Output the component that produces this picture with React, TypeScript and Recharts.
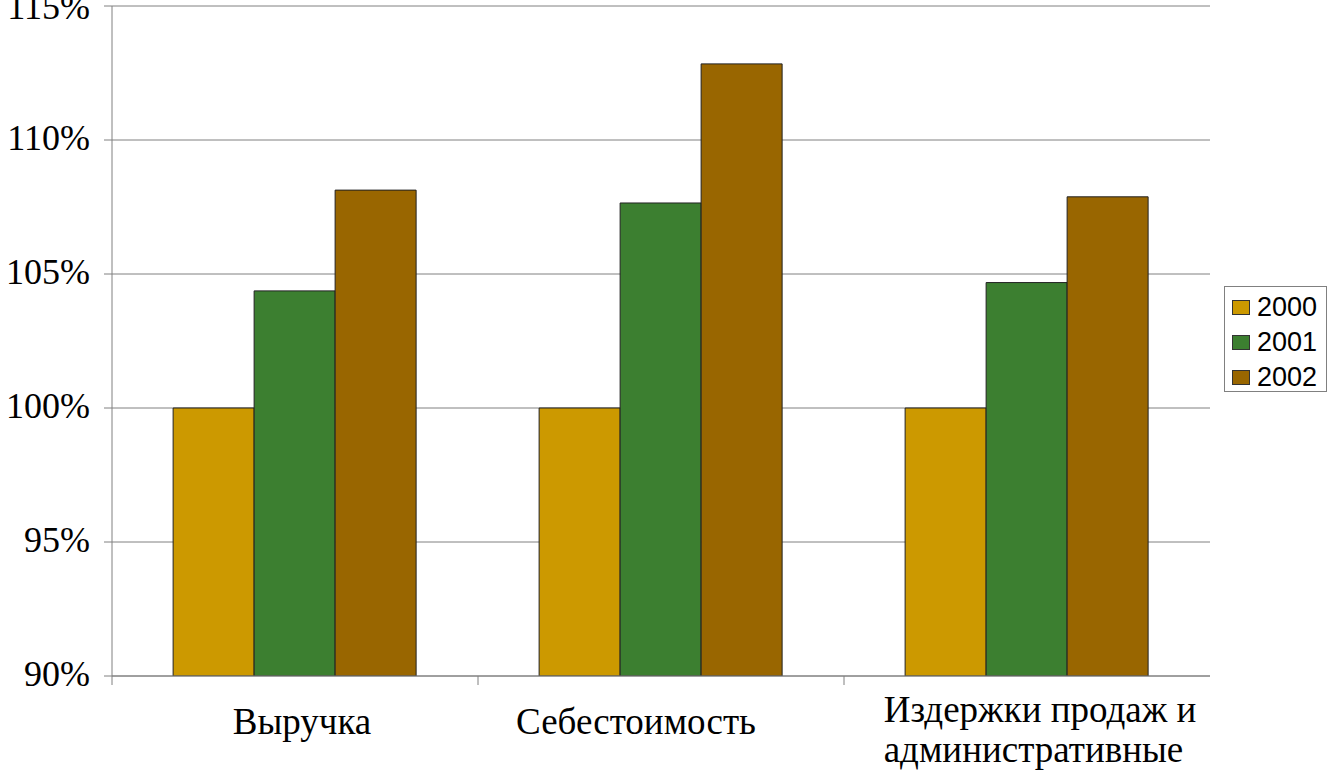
import React from "react";
import { BarChart, Bar, XAxis, YAxis, CartesianGrid } from "recharts";

const categories = ["Выручка", "Себестоимость", "Издержки продаж и административные"];
const values2000 = [100, 100, 100];
const values2001 = [104.37, 107.65, 104.68];
const values2002 = [108.13, 112.84, 107.88];
const seriesNames = ["2000", "2001", "2002"];
const yTicks = [90, 95, 100, 105, 110, 115];

const colors = ["#CC9900", "#3C7F30", "#996600"];
const labelShift = [7, -25, 13];
const SERIF = "'Liberation Serif', 'Times New Roman', serif";
const SANS = "'Liberation Sans', Arial, sans-serif";
const LABEL_SIZE = 37;

const data = categories.map((c, i) => ({
  name: c,
  s2000: values2000[i],
  s2001: values2001[i],
  s2002: values2002[i],
}));

function wrap(text: string, max: number): string[] {
  const words = text.split(" ");
  const lines: string[] = [];
  let cur = "";
  for (const w of words) {
    const t = cur ? cur + " " + w : w;
    if (t.length > max && cur) {
      lines.push(cur);
      cur = w;
    } else cur = t;
  }
  if (cur) lines.push(cur);
  return lines;
}

let measureCtx: CanvasRenderingContext2D | null = null;
function measure(text: string): number {
  if (typeof document === "undefined") return text.length * LABEL_SIZE * 0.5;
  if (!measureCtx) {
    const c = document.createElement("canvas");
    measureCtx = c.getContext("2d");
  }
  if (!measureCtx) return text.length * LABEL_SIZE * 0.5;
  measureCtx.font = `${LABEL_SIZE}px 'Liberation Serif', 'Times New Roman', serif`;
  return measureCtx.measureText(text).width;
}

const XTick = (props: any) => {
  const { x, y, payload, index, width, visibleTicksCount } = props;
  const half =
    payload && payload.offset ? payload.offset : width / (visibleTicksCount || 3) / 2;
  const lines = wrap(String(payload.value), 18);
  const first = lines.length > 1 ? 46 : 58;
  const cx = x + (labelShift[index] || 0);
  const blockW = Math.max(...lines.map(measure));
  const startX = cx - blockW / 2;
  return (
    <g>
      <line x1={x - half} x2={x - half} y1={y} y2={y + 9} stroke="#808080" />
      <text textAnchor="start" fontFamily={SERIF} fontSize={LABEL_SIZE} fill="#000">
        {lines.map((l, i) => (
          <tspan key={i} x={startX} y={y + first + i * 40}>
            {l}
          </tspan>
        ))}
      </text>
    </g>
  );
};

const YTick = (props: any) => {
  const { x, y, payload } = props;
  return (
    <text x={x} y={y} dy={10} textAnchor="end" fontFamily={SERIF} fontSize={36} fill="#000">
      {payload.value + "%"}
    </text>
  );
};

const LegendBox = () => {
  const items = seriesNames.map((n, i) => ({ n, c: colors[i] }));
  return (
    <div
      style={{
        position: "absolute",
        left: 1224,
        top: 286,
        width: 101,
        height: 101,
        border: "1px solid #808080",
        background: "#fff",
        boxSizing: "content-box",
        paddingTop: 3,
      }}
    >
      {items.map((it) => (
        <div
          key={it.n}
          style={{ height: 35, display: "flex", alignItems: "center", paddingLeft: 7 }}
        >
          <div
            style={{
              width: 16,
              height: 13,
              background: it.c,
              border: "1px solid #333",
              marginRight: 7,
            }}
          />
          <span style={{ fontFamily: SANS, fontSize: 27, color: "#000", lineHeight: "27px" }}>
            {it.n}
          </span>
        </div>
      ))}
    </div>
  );
};

export default function App() {
  return (
    <div style={{ position: "absolute", left: 0, top: 0, width: 1339, height: 784, background: "#fff" }}>
      <BarChart
        width={1339}
        height={784}
        data={data}
        margin={{ top: 6, right: 129, bottom: 0, left: 0 }}
        barCategoryGap="16.7%"
        barGap={0}
      >
        <CartesianGrid vertical={false} stroke="#808080" strokeWidth={1} />
        <XAxis
          dataKey="name"
          height={108}
          interval={0}
          axisLine={{ stroke: "#808080" }}
          tickLine={false}
          tickSize={0}
          tickMargin={0}
          tick={<XTick />}
        />
        <YAxis
          width={112}
          domain={[90, 115]}
          ticks={yTicks}
          allowDataOverflow
          axisLine={{ stroke: "#808080" }}
          tickLine={{ stroke: "#808080" }}
          tickSize={8}
          tickMargin={14}
          tick={<YTick />}
        />
        <YAxis
          yAxisId="r"
          orientation="right"
          width={0}
          domain={[90, 115]}
          tick={false}
          tickLine={false}
          axisLine={{ stroke: "#808080" }}
        />
        <Bar dataKey="s2000" name="2000" fill={colors[0]} stroke="#222" strokeWidth={1} isAnimationActive={false} />
        <Bar dataKey="s2001" name="2001" fill={colors[1]} stroke="#222" strokeWidth={1} isAnimationActive={false} />
        <Bar dataKey="s2002" name="2002" fill={colors[2]} stroke="#222" strokeWidth={1} isAnimationActive={false} />
      </BarChart>
      <LegendBox />
    </div>
  );
}
